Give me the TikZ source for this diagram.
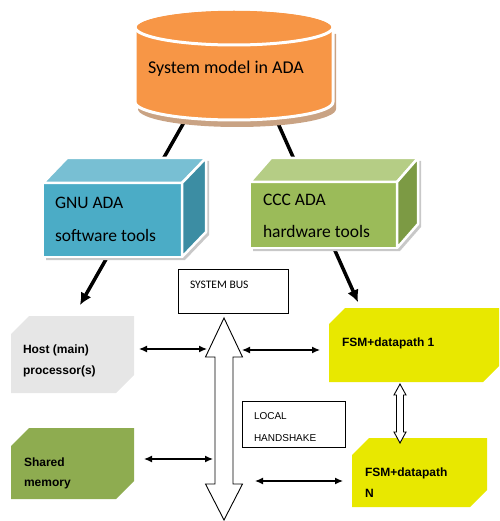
\documentclass[tikz,border=0pt]{standalone}
\usepackage{fontspec}
\setmainfont{Carlito}
\newfontfamily\arialfont{Liberation Sans}
\usetikzlibrary{arrows.meta,calc}

\definecolor{modelorange}{HTML}{F79646}
\definecolor{modelshadow}{HTML}{C9A384}
\definecolor{aquafront}{HTML}{4BACC6}
\definecolor{aquatop}{HTML}{78BFD3}
\definecolor{aquaside}{HTML}{3C8DA3}
\definecolor{olivefront}{HTML}{9BBB59}
\definecolor{olivetop}{HTML}{B5CD85}
\definecolor{oliveside}{HTML}{7C9A44}
\definecolor{hostgray}{HTML}{E6E6E6}
\definecolor{fsmyellow}{HTML}{E8E800}
\definecolor{memgreen}{HTML}{8EAC50}
\definecolor{boxshadow}{HTML}{C8C8C8}

% fill a block whose top-left and bottom-right corners are cut off
% #1 colour, #2 node name, #3 cut size
\newcommand\cutfill[3]{%
  \fill[#1] ($(#2.north west)+(0,#3)$) -- ($(#2.north west)+(#3,0)$) -- (#2.north east)
    -- ($(#2.south east)+(0,-#3)$) -- ($(#2.south east)+(-#3,0)$) -- (#2.south west) -- cycle;}

\begin{document}
\begin{tikzpicture}[x=1pt,y=-1pt,
  every node/.style={inner sep=0pt, outer sep=0pt},
  thinbox/.style={draw=black, line width=0.9pt, fill=white},
  front/.style={draw=white, line width=2.5pt},
  face/.style={draw=white, line width=2.5pt, line join=round},
  bigtext/.style={anchor=base west, font=\fontsize{17.5}{21}\selectfont},
  boldtext/.style={anchor=base west, font=\arialfont\bfseries\fontsize{12}{14}\selectfont},
  smallcal/.style={anchor=base west, font=\fontsize{11.5}{13}\selectfont},
  smallarial/.style={anchor=base west, font=\arialfont\fontsize{10}{12}\selectfont},
  feed/.style={line width=3.5pt, -{Latex[length=12pt,width=12pt]}},
  biarrow/.style={line width=1.3pt, {Latex[length=8pt,width=7pt]}-{Latex[length=8pt,width=7pt]}},
  hollow/.style={draw=black, line width=0.9pt, fill=white, line join=miter}
]
\useasboundingbox (0,0) rectangle (499,521);

% flat processing blocks with cut corners
\node[minimum width=123pt, minimum height=77pt] (host) at (72.5,354.5) {};
\node[minimum width=123pt, minimum height=71pt] (mem) at (72.5,463.5) {};
\node[minimum width=170pt, minimum height=74pt] (fsm1) at (414,345) {};
\node[minimum width=135pt, minimum height=69pt] (fsmN) at (419.5,472.5) {};
\cutfill{hostgray}{host}{18}
\cutfill{memgreen}{mem}{18}
\cutfill{fsmyellow}{fsm1}{16}
\cutfill{fsmyellow}{fsmN}{17}

\node[boldtext] (hostT1) at (23,353) {Host (main)};
\node[boldtext] (hostT2) at (23,374) {processor(s)};
\node[boldtext] (memT1) at (24,466) {Shared};
\node[boldtext] (memT2) at (24,486) {memory};
\node[boldtext] (fsm1T) at (342,346) {FSM+datapath 1};
\node[boldtext] (fsmNT1) at (365,476) {FSM+datapath};
\node[boldtext] (fsmNT2) at (365,497) {N};

% tool flow from the model down to the targets
\coordinate (cylL) at (191,110);
\coordinate (cylR) at (272,110);
\draw[feed] (cylL) -- ([xshift=7.5pt,yshift=11pt]host.north);
\draw[feed] (cylR) -- ([xshift=-56pt,yshift=6pt]fsm1.north);

% system model cylinder with its drop shadow
\fill[modelshadow] (138,34) -- (138,109) arc[start angle=180, end angle=0, x radius=99, y radius=18]
  -- (336,34) -- cycle;
\filldraw[fill=modelorange, draw=white, line width=3pt]
  (135,27) -- (135,102) arc[start angle=180, end angle=0, x radius=99, y radius=18]
  -- (333,27) arc[start angle=0, end angle=-180, x radius=99, y radius=18] -- cycle;
\draw[white, line width=3pt] (234,27) ellipse[x radius=99, y radius=18];
\node[anchor=base west, font=\fontsize{18}{22}\selectfont] (model) at (148,74) {System model in ADA};

% software tool box
\coordinate (gnuNW) at (43,183);
\fill[boxshadow] ([shift={(3,3)}]gnuNW) -- ++(24,-25) -- ++(139,0) -- ++(0,74) -- ++(-24,25) -- ++(-139,0) -- cycle;
\node[front, fill=aquafront, minimum width=139pt, minimum height=74pt] (gnu) at (112.5,220) {};
\filldraw[face, fill=aquatop] (gnu.north west) -- ++(24,-25) -- ++(139,0) -- (gnu.north east) -- cycle;
\filldraw[face, fill=aquaside] (gnu.north east) -- ++(24,-25) -- ++(0,74) -- (gnu.south east) -- cycle;
\node[bigtext] (gnuT1) at (55,208) {GNU ADA};
\node[bigtext] (gnuT2) at (55,241) {software tools};

% hardware tool box
\coordinate (cccNW) at (250,182);
\fill[boxshadow] ([shift={(3,3)}]cccNW) -- ++(21,-24) -- ++(147,0) -- ++(0,66) -- ++(-21,24) -- ++(-147,0) -- cycle;
\node[front, fill=olivefront, minimum width=147pt, minimum height=66pt] (ccc) at (323.5,215) {};
\filldraw[face, fill=olivetop] (ccc.north west) -- ++(21,-24) -- ++(147,0) -- (ccc.north east) -- cycle;
\filldraw[face, fill=oliveside] (ccc.north east) -- ++(21,-24) -- ++(0,66) -- (ccc.south east) -- cycle;
\node[bigtext] (cccT1) at (263,205) {CCC ADA};
\node[bigtext] (cccT2) at (263,237) {hardware tools};

% labels of the interconnect
\node[thinbox, minimum width=110pt, minimum height=44pt] (sysbus) at (233,291) {};
\node[smallcal] (sysbusT) at (190,288) {SYSTEM BUS};
\node[thinbox, minimum width=103pt, minimum height=46pt] (local) at (293.5,424) {};
\node[smallarial] (localT1) at (254,419) {LOCAL};
\node[smallarial] (localT2) at (254,441) {HANDSHAKE};

% system bus as a hollow double arrow
\coordinate (busTop) at (224,318);
\coordinate (busBot) at (224,520);
\draw[hollow] (busTop) -- ++(18.5,39) -- ++(-9.5,0) -- ++(0,127) -- ++(9.5,0) -- (busBot)
  -- ++(-18.5,-36) -- ++(9.5,0) -- ++(0,-127) -- ++(-9.5,0) -- cycle;

% local handshake link
\coordinate (hsTop) at ([xshift=-14pt,yshift=-2pt]fsm1.south);
\coordinate (hsBot) at ([xshift=-19.5pt,yshift=-5pt]fsmN.north);
\draw[hollow] (hsTop) -- ++(6,11) -- ++(-2.5,0) -- ($(hsBot)+(3.5,-11)$) -- ++(2.5,0) -- (hsBot)
  -- ++(-6,-11) -- ++(2.5,0) -- ($(hsTop)+(-3.5,11)$) -- ++(-2.5,0) -- cycle;

% bus attachments
\coordinate (busW1) at (207,349);
\coordinate (busE1) at (242,350);
\coordinate (busW2) at (213,459);
\coordinate (busE2) at (255,481);
\draw[biarrow, shorten <=5pt] (host.east |- busW1) -- (busW1);
\draw[biarrow, shorten >=9pt] (busE1) -- (fsm1.west |- busE1);
\draw[biarrow, shorten <=10pt] (mem.east |- busW2) -- (busW2);
\draw[biarrow, shorten >=9pt] (busE2) -- (fsmN.west |- busE2);
\end{tikzpicture}
\end{document}
